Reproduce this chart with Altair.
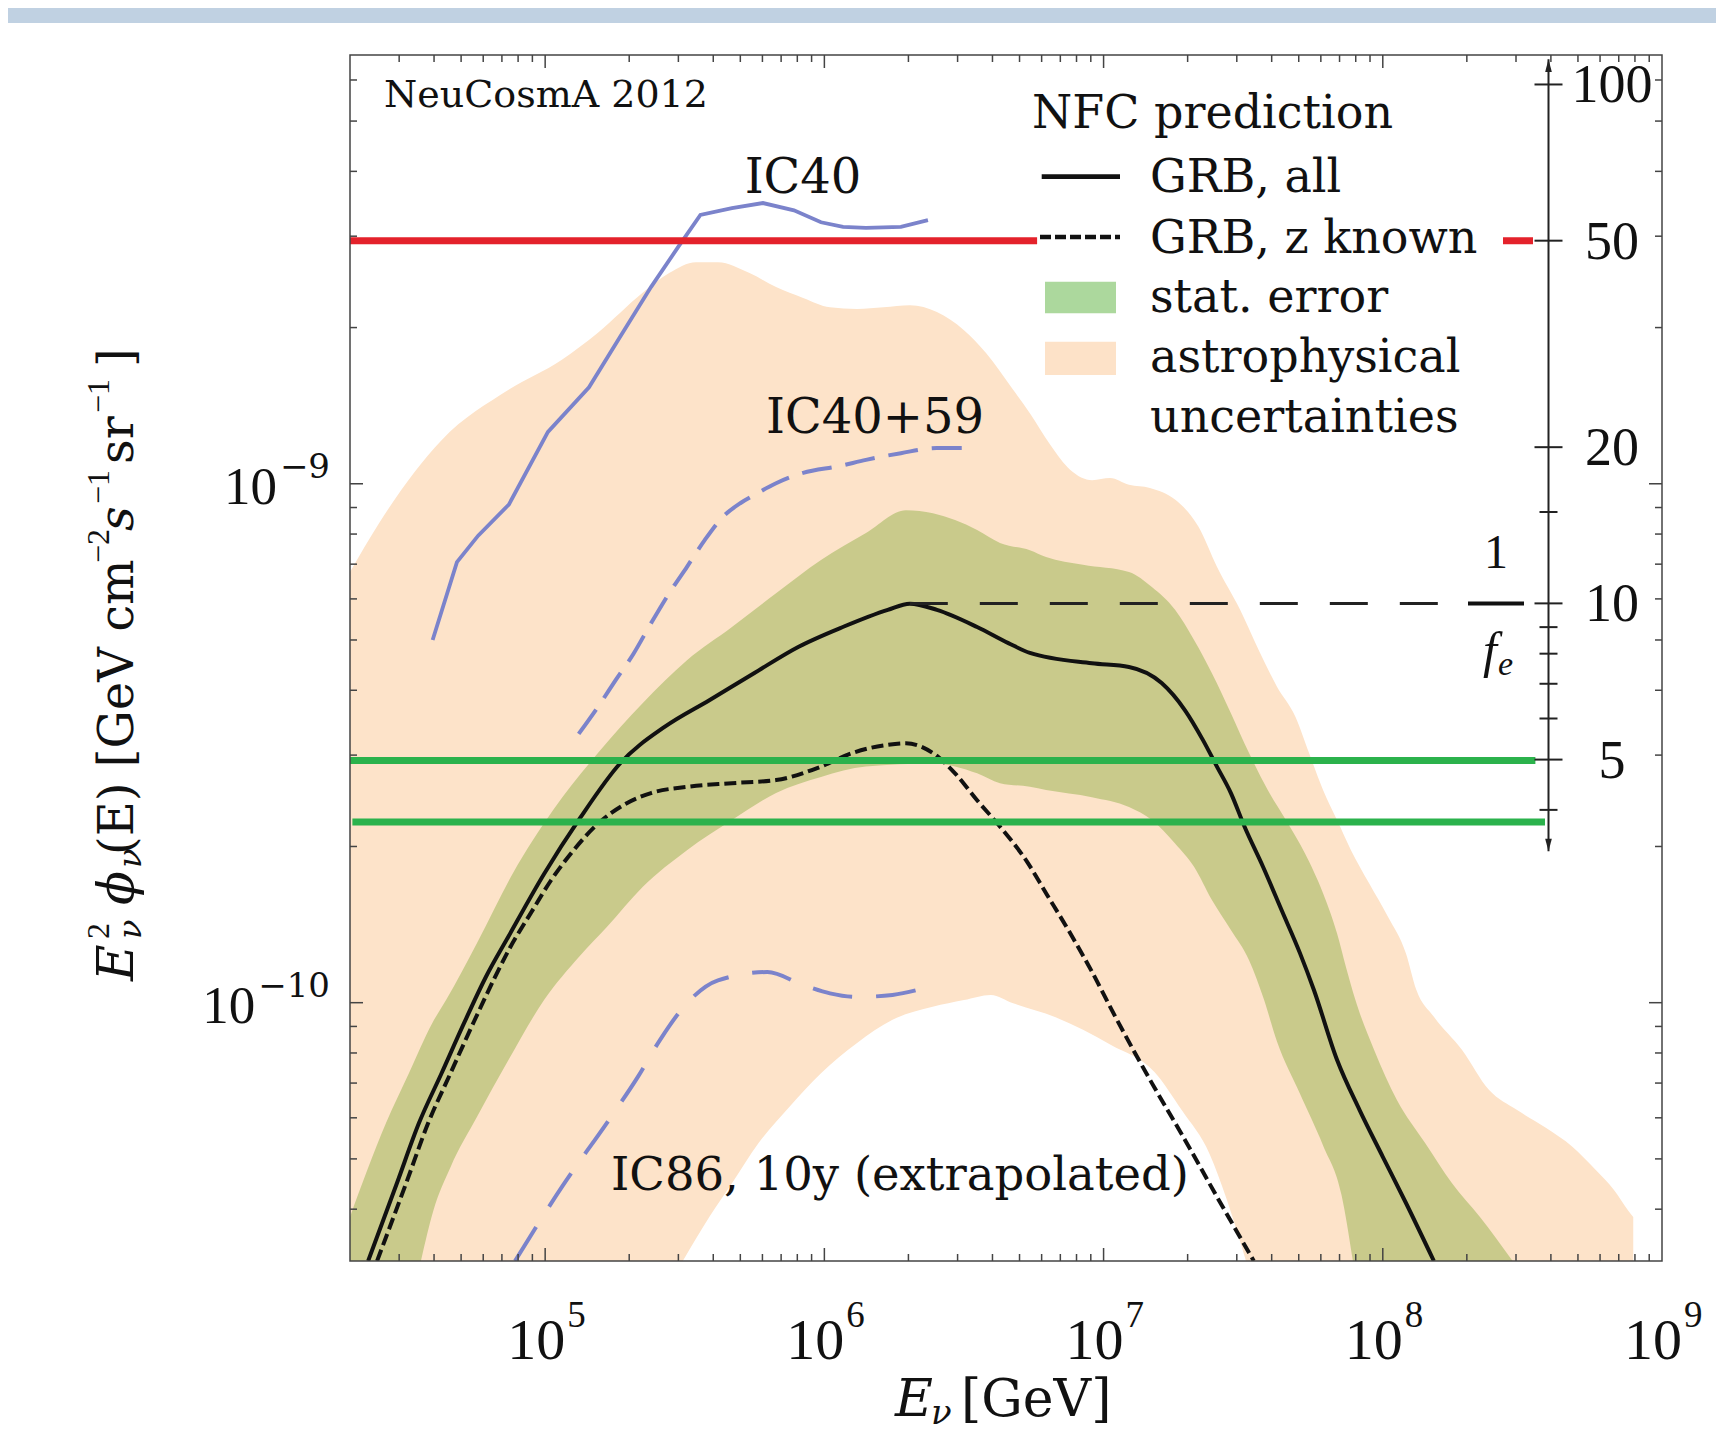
import numpy as np
import pandas as pd
import altair as alt

# ------------------------------------------------------------------ data
# log10(E / GeV) and log10(E^2 phi / [GeV cm^-2 s^-1 sr^-1])
FLOOR = -10.4978   # lower edge of plot range (log10)
TOP = -8.1737      # upper edge of plot range (log10)
XMIN, XMAX = 2e4, 1e9

astro_hi_logE = [4.301, 4.405, 4.629, 4.869, 5.060, 5.189, 5.349, 5.444, 5.540, 5.619, 5.732, 5.827, 5.924, 6.020,
                 6.117, 6.212, 6.307, 6.403, 6.500, 6.579, 6.676, 6.736, 6.809, 6.880, 6.959, 7.023, 7.091, 7.166,
                 7.257, 7.340, 7.406, 7.489, 7.555, 7.621, 7.687, 7.736, 7.786, 7.836, 7.886, 7.951, 8.019, 8.083,
                 8.120, 8.183, 8.284, 8.380, 8.481, 8.581, 8.680, 8.762, 8.828, 8.878, 8.897]
astro_hi_logF = [-9.170, -9.076, -8.916, -8.819, -8.761, -8.709, -8.632, -8.594, -8.573, -8.573, -8.594, -8.621,
                 -8.642, -8.660, -8.663, -8.660, -8.656, -8.669, -8.704, -8.748, -8.819, -8.864, -8.925, -8.973,
                 -8.993, -8.989, -9.002, -9.008, -9.031, -9.083, -9.160, -9.243, -9.320, -9.391, -9.449, -9.519,
                 -9.590, -9.648, -9.706, -9.770, -9.835, -9.905, -9.975, -10.027, -10.091, -10.168, -10.207,
                 -10.240, -10.278, -10.322, -10.361, -10.400, -10.413]

astro_lo_logE = [5.493, 5.589, 5.669, 5.765, 5.876, 5.988, 6.116, 6.244, 6.388, 6.500, 6.596, 6.676, 6.828, 7.025,
                 7.183, 7.281, 7.380, 7.439, 7.478, 7.510]
astro_lo_logF = [FLOOR, -10.412, -10.348, -10.270, -10.200, -10.136, -10.078, -10.033, -10.008, -9.995, -9.985,
                 -10.001, -10.028, -10.081, -10.134, -10.208, -10.292, -10.376, -10.441, FLOOR]

stat_hi_logE = [4.301, 4.430, 4.512, 4.595, 4.645, 4.756, 4.885, 5.028, 5.189, 5.349, 5.508, 5.669, 5.827, 5.988,
                6.149, 6.292, 6.389, 6.547, 6.629, 6.736, 6.794, 6.926, 7.091, 7.173, 7.256, 7.324, 7.388, 7.456,
                7.521, 7.588, 7.653, 7.721, 7.786, 7.836, 7.868, 7.902, 7.969, 8.051, 8.151, 8.248, 8.348, 8.465]
stat_hi_logF = [-10.413, -10.232, -10.136, -10.040, -9.995, -9.885, -9.750, -9.629, -9.519, -9.423, -9.340, -9.276,
                -9.211, -9.147, -9.095, -9.051, -9.057, -9.089, -9.114, -9.128, -9.141, -9.156, -9.170, -9.199,
                -9.243, -9.301, -9.365, -9.442, -9.519, -9.590, -9.648, -9.712, -9.789, -9.866, -9.931, -9.995,
                -10.091, -10.188, -10.270, -10.348, -10.413, FLOOR]

stat_lo_logE = [4.555, 4.600, 4.661, 4.756, 4.869, 4.996, 5.124, 5.221, 5.349, 5.508, 5.669, 5.827, 5.988, 6.149,
                6.389, 6.547, 6.629, 6.736, 6.794, 6.958, 7.091, 7.173, 7.256, 7.324, 7.388, 7.456, 7.521, 7.575,
                7.621, 7.703, 7.786, 7.852, 7.893]
stat_lo_logF = [FLOOR, -10.400, -10.317, -10.220, -10.110, -9.995, -9.910, -9.854, -9.777, -9.706, -9.648, -9.596,
                -9.565, -9.545, -9.539, -9.558, -9.577, -9.584, -9.590, -9.604, -9.623, -9.648, -9.693, -9.738,
                -9.802, -9.860, -9.918, -9.995, -10.075, -10.175, -10.275, -10.370, FLOOR]

grb_all_logE = [4.366, 4.469, 4.548, 4.629, 4.709, 4.788, 4.869, 4.996, 5.124, 5.268, 5.429, 5.588, 5.748, 5.908,
                6.066, 6.227, 6.306, 6.403, 6.547, 6.659, 6.736, 6.958, 7.091, 7.208, 7.291, 7.356, 7.406, 7.456,
                7.505, 7.571, 7.637, 7.703, 7.753, 7.836, 7.917, 8.000, 8.083, 8.183]
grb_all_logF = [FLOOR, -10.348, -10.232, -10.136, -10.040, -9.950, -9.872, -9.752, -9.645, -9.539, -9.468, -9.417,
                -9.365, -9.314, -9.276, -9.243, -9.231, -9.243, -9.276, -9.307, -9.326, -9.346, -9.353, -9.384,
                -9.436, -9.494, -9.545, -9.596, -9.661, -9.738, -9.821, -9.904, -9.975, -10.110, -10.207, -10.297,
                -10.386, FLOOR]

grb_z_logE = [4.398, 4.502, 4.581, 4.661, 4.742, 4.821, 4.869, 4.950, 5.020, 5.093, 5.189, 5.284, 5.379, 5.508,
              5.669, 5.827, 5.988, 6.099, 6.228, 6.292, 6.389, 6.468, 6.547, 6.628, 6.728, 6.794, 6.876, 6.958,
              7.042, 7.173, 7.291, 7.406, 7.488, 7.538]
grb_z_logF = [FLOOR, -10.348, -10.232, -10.136, -10.040, -9.950, -9.899, -9.826, -9.765, -9.712, -9.655, -9.618,
              -9.596, -9.584, -9.577, -9.571, -9.545, -9.519, -9.503, -9.500, -9.519, -9.558, -9.610, -9.660,
              -9.730, -9.789, -9.862, -9.940, -10.027, -10.155, -10.264, -10.374, -10.451, FLOOR]

ic40_logE = [4.597, 4.684, 4.760, 4.870, 5.010, 5.157, 5.268, 5.379, 5.476, 5.556, 5.669, 5.780, 5.891, 5.988,
             6.067, 6.149, 6.274, 6.371]
ic40_logF = [-9.301, -9.151, -9.100, -9.040, -8.900, -8.814, -8.717, -8.621, -8.544, -8.482, -8.469, -8.459,
             -8.473, -8.496, -8.505, -8.507, -8.505, -8.492]

ic4059_logE = [5.120, 5.189, 5.253, 5.317, 5.379, 5.444, 5.508, 5.572, 5.636, 5.700, 5.748, 5.827, 5.924, 6.053,
               6.149, 6.274, 6.403, 6.500]
ic4059_logF = [-9.482, -9.430, -9.378, -9.327, -9.269, -9.211, -9.160, -9.108, -9.064, -9.037, -9.022, -8.999,
               -8.979, -8.966, -8.954, -8.941, -8.931, -8.931]

ic86_logE = [4.892, 5.060, 5.236, 5.332, 5.411, 5.508, 5.619, 5.796, 5.924, 6.020, 6.116, 6.244, 6.371]
ic86_logF = [FLOOR, -10.355, -10.220, -10.143, -10.072, -10.001, -9.957, -9.941, -9.966, -9.982, -9.989, -9.985,
             -9.970]

# horizontal levels (flux) and their energy extent
red_level = 2.94e-9
red_E = [2e4, 5.78e6]
green_levels = [2.93e-10, 2.23e-10]
green_E_start = [2e4, 2.04e4]
green_E_end = [3.52e8, 3.81e8]

# 1/f_e scale on the right: flux per unit of 1/f_e
fe_unit = 10 ** (-9.2305) / 10
right_major = [100, 50, 20, 10, 5]
right_minor = [15, 9, 8, 7, 6, 4]
right_span = [3.33, 111.8]
fe_peak_E = 10 ** 6.306

x_label_vals = [1e5, 1e6, 1e7, 1e8, 1e9]
x_label_exps = ["5", "6", "7", "8", "9"]
y_label_vals = [1e-10, 1e-9]
y_label_exps = ["\u221210", "\u22129"]

# ------------------------------------------------------------------ layout
W, H = 1312, 1206
PAD = {"left": 342, "top": 47, "right": 54, "bottom": 170}
YMIN, YMAX = 10 ** FLOOR, 10 ** TOP
xs = alt.Scale(type="log", domain=[XMIN, XMAX])
ys = alt.Scale(type="log", domain=[YMIN, YMAX])

PEACH = "#fde3c9"
OLIVE = "#c9ca8b"
BLUE = "#7b83cb"
RED = "#e4222b"
GREEN = "#2bb24c"
INK = "#111111"
SERIF = "DejaVu Serif"
TIMES = "Liberation Serif"

ONE = pd.DataFrame({"a": [0]})


def curve(le, lf):
    return pd.DataFrame({"E": np.power(10.0, le), "F": np.power(10.0, lf)})


def X(f="E"):
    return alt.X(f"{f}:Q", scale=xs, axis=None)


def Y(f="F"):
    return alt.Y(f"{f}:Q", scale=ys, axis=None)


def band(le, lf, color):
    return alt.Chart(curve(le, lf)).mark_area(color=color, opacity=1, clip=True, interpolate="monotone").encode(
        x=X(), y=Y(), y2=alt.datum(YMIN))


def line(le, lf, color, width, dash=None, interp="monotone"):
    kw = dict(color=color, strokeWidth=width, clip=True, interpolate=interp)
    if dash:
        kw["strokeDash"] = dash
    return alt.Chart(curve(le, lf)).mark_line(**kw).encode(x=X(), y=Y())


def txt(s, x, y, size, font=SERIF, style=None, align="left", baseline="alphabetic", angle=None):
    kw = dict(text=s, fontSize=size, font=font, align=align, baseline=baseline, color=INK)
    if style:
        kw["fontStyle"] = style
    if angle is not None:
        kw["angle"] = angle
    return alt.Chart(ONE).mark_text(**kw).encode(x=alt.value(x), y=alt.value(y))


layers = []

# page panel (white) over the blue-grey border
layers.append(alt.Chart(ONE).mark_rect(color="white").encode(
    x=alt.value(-342), x2=alt.value(W + 60), y=alt.value(-32), y2=alt.value(H + 180)))

# uncertainty bands
layers.append(band(astro_hi_logE, astro_hi_logF, PEACH))
layers.append(band(stat_hi_logE, stat_hi_logF, OLIVE))
layers.append(band(stat_lo_logE, stat_lo_logF, PEACH))
layers.append(band(astro_lo_logE, astro_lo_logF, "white"))

# IceCube limits
layers.append(line(ic86_logE, ic86_logF, BLUE, 4, [40, 24]))
layers.append(line(ic4059_logE, ic4059_logF, BLUE, 4, [30, 14]))
layers.append(line(ic40_logE, ic40_logF, BLUE, 3.8, interp="linear"))

# predictions
layers.append(line(grb_z_logE, grb_z_logF, INK, 4, [12, 5]))
layers.append(line(grb_all_logE, grb_all_logF, INK, 4))

# 1/f_e reference line and fraction bar
fe_df = pd.DataFrame({"E": [fe_peak_E], "F": [10 * fe_unit]})
layers.append(alt.Chart(fe_df).mark_rule(color="#222222", strokeWidth=3, strokeDash=[38, 32]).encode(
    x=X(), x2=alt.value(1118), y=Y()))
layers.append(alt.Chart(fe_df).mark_rule(color=INK, strokeWidth=4).encode(
    x=alt.value(1118), x2=alt.value(1174), y=Y()))

# horizontal levels
red_df = pd.DataFrame({"E": [red_E[0]], "E2": [red_E[1]], "F": [red_level]})
layers.append(alt.Chart(red_df).mark_rule(color=RED, strokeWidth=7, clip=True).encode(
    x=X(), x2=alt.X2("E2:Q"), y=Y()))
layers.append(alt.Chart(red_df).mark_rule(color=RED, strokeWidth=7).encode(
    x=alt.value(1153), x2=alt.value(1183), y=Y()))
green_df = pd.DataFrame({"E": green_E_start, "E2": green_E_end, "F": green_levels})
layers.append(alt.Chart(green_df).mark_rule(color=GREEN, strokeWidth=7, clip=True).encode(
    x=X(), x2=alt.X2("E2:Q"), y=Y()))

# right 1/f_e axis
RX = 1198.5
span_df = pd.DataFrame({"F": [right_span[0] * fe_unit], "F2": [right_span[1] * fe_unit]})
layers.append(alt.Chart(span_df).mark_rule(color="#222222", strokeWidth=2).encode(
    x=alt.value(RX), y=Y(), y2=alt.Y2("F2:Q")))
maj_df = pd.DataFrame({"F": [v * fe_unit for v in right_major], "lab": [str(v) for v in right_major]})
min_df = pd.DataFrame({"F": [v * fe_unit for v in right_minor]})
layers.append(alt.Chart(maj_df).mark_rule(color="#222222", strokeWidth=2).encode(
    x=alt.value(RX - 14), x2=alt.value(RX + 14), y=Y()))
layers.append(alt.Chart(min_df).mark_rule(color="#222222", strokeWidth=2).encode(
    x=alt.value(RX - 9), x2=alt.value(RX + 9), y=Y()))
layers.append(alt.Chart(maj_df).mark_text(font=TIMES, fontSize=54, align="center", baseline="middle", dy=2,
                                          color=INK).encode(x=alt.value(1262), y=Y(), text="lab:N"))
up_df = pd.DataFrame({"F": [108.2 * fe_unit]})
dn_df = pd.DataFrame({"F": [3.44 * fe_unit]})
layers.append(alt.Chart(up_df).mark_point(shape="M0,-1L0.45,0.7L-0.45,0.7Z", filled=True, size=220, color="#222222",
                                          opacity=1).encode(x=alt.value(RX), y=Y()))
layers.append(alt.Chart(dn_df).mark_point(shape="M0,1L0.45,-0.7L-0.45,-0.7Z", filled=True, size=220, color="#222222",
                                          opacity=1).encode(x=alt.value(RX), y=Y()))

# frame ticks
FR = "#444444"
x_major = [1e5, 1e6, 1e7, 1e8]
x_minor = [m * 10.0 ** d for d in range(4, 9) for m in range(2, 10) if XMIN < m * 10.0 ** d < XMAX]
y_major = [1e-10, 1e-9]
y_minor = [m * 10.0 ** d for d in (-11, -10, -9) for m in range(2, 10) if YMIN < m * 10.0 ** d < YMAX]
for vals, ln in ((x_major, 13), (x_minor, 7)):
    d = pd.DataFrame({"E": vals})
    layers.append(alt.Chart(d).mark_rule(color=FR, strokeWidth=1.5).encode(x=X(), y=alt.value(H), y2=alt.value(H - ln)))
    layers.append(alt.Chart(d).mark_rule(color=FR, strokeWidth=1.5).encode(x=X(), y=alt.value(0), y2=alt.value(ln)))
for vals, ln in ((y_major, 13), (y_minor, 7)):
    d = pd.DataFrame({"F": vals})
    layers.append(alt.Chart(d).mark_rule(color=FR, strokeWidth=1.5).encode(y=Y(), x=alt.value(0), x2=alt.value(ln)))
    layers.append(alt.Chart(d).mark_rule(color=FR, strokeWidth=1.5).encode(y=Y(), x=alt.value(W), x2=alt.value(W - ln)))
layers.append(alt.Chart(ONE).mark_rect(fillOpacity=0, stroke=FR, strokeWidth=1.5).encode(
    x=alt.value(0), x2=alt.value(W), y=alt.value(0), y2=alt.value(H)))

# tick labels
xl_df = pd.DataFrame({"E": x_label_vals, "exp": x_label_exps})
layers.append(alt.Chart(xl_df).mark_text(text="10", font=TIMES, fontSize=58, align="right", dx=20, color=INK).encode(
    x=X(), y=alt.value(1286.7)))
layers.append(alt.Chart(xl_df).mark_text(font=TIMES, fontSize=37, align="left", dx=22, color=INK).encode(
    x=X(), y=alt.value(1261), text="exp:N"))
for v, e in zip(y_label_vals, y_label_exps):
    d = pd.DataFrame({"F": [v], "exp": [e]})
    w_exp = 34 * (0.838 + 0.636 * (len(e) - 1))
    layers.append(alt.Chart(d).mark_text(font=SERIF, fontSize=34, align="right", baseline="middle", dy=-16,
                                         color=INK).encode(x=alt.value(-20), y=Y(), text="exp:N"))
    layers.append(alt.Chart(d).mark_text(text="10", font=TIMES, fontSize=53, align="right", baseline="middle", dy=4,
                                         color=INK).encode(x=alt.value(-23 - w_exp), y=Y()))

# axis titles
layers += [
    txt("E", 545, 1361, 52, style="italic"),
    txt("\u03bd", 581, 1369, 34, style="italic"),
    txt("[GeV]", 611, 1361, 52),
]
YB, YSUP, YSUB = -217, -241, -209
layers += [
    txt("E", YB, 926, 50, style="italic", angle=270),
    txt("2", YSUP, 884, 32, font=TIMES, angle=270),
    txt("\u03bd", YSUB, 884, 32, style="italic", angle=270),
    txt("\u03d5", YB, 850, 50, style="italic", angle=270),
    txt("\u03bd", YSUB, 813, 32, style="italic", angle=270),
    txt("(E) [GeV cm", YB, 800, 48, angle=270),
    txt("\u22122", YSUP, 508, 32, font=TIMES, angle=270),
    txt("s", YB, 476, 48, style="italic", angle=270),
    txt("\u22121", YSUP, 449, 32, font=TIMES, angle=270),
    txt("sr", YB, 409, 48, angle=270),
    txt("\u22121", YSUP, 358, 32, font=TIMES, angle=270),
    txt("]", YB, 312, 48, angle=270),
]

# annotations
layers += [
    txt("NeuCosmA 2012", 34, 52, 38),
    txt("IC40", 453, 138, 48, align="center"),
    txt("IC40+59", 525, 378, 48, align="center"),
    txt("IC86, 10y (extrapolated)", 261, 1135, 46.5),
    txt("1", 1146, 513, 48, font=TIMES, align="center"),
    txt("f", 1147, 612, 50, font=TIMES, style="italic", align="right"),
    txt("e", 1148, 620, 34, font=TIMES, style="italic"),
]

# legend
layers += [
    txt("NFC prediction", 682, 73, 46),
    txt("GRB, all", 800, 136.7, 46),
    txt("GRB, z known", 800, 197.5, 46),
    txt("stat. error", 800, 257, 46),
    txt("astrophysical", 800, 316.5, 46),
    txt("uncertainties", 800, 376.5, 46),
    alt.Chart(ONE).mark_rule(color=INK, strokeWidth=4.7).encode(
        x=alt.value(691.7), x2=alt.value(770), y=alt.value(121.7)),
    alt.Chart(ONE).mark_rule(color=INK, strokeWidth=4.7, strokeDash=[11, 4]).encode(
        x=alt.value(690), x2=alt.value(770), y=alt.value(182)),
    alt.Chart(ONE).mark_rect(color="#acd89d").encode(
        x=alt.value(695), x2=alt.value(766), y=alt.value(226.7), y2=alt.value(258.3)),
    alt.Chart(ONE).mark_rect(color="#fde2c8").encode(
        x=alt.value(695), x2=alt.value(766), y=alt.value(286.7), y2=alt.value(320)),
]

chart = alt.layer(*layers).properties(
    width=W, height=H,
    autosize=alt.AutoSizeParams(type="none"),
    padding=PAD,
).configure(background="#c0d1e2").configure_view(strokeWidth=0)

chart.save("out.html", embed_options={"renderer": "svg", "actions": False})
